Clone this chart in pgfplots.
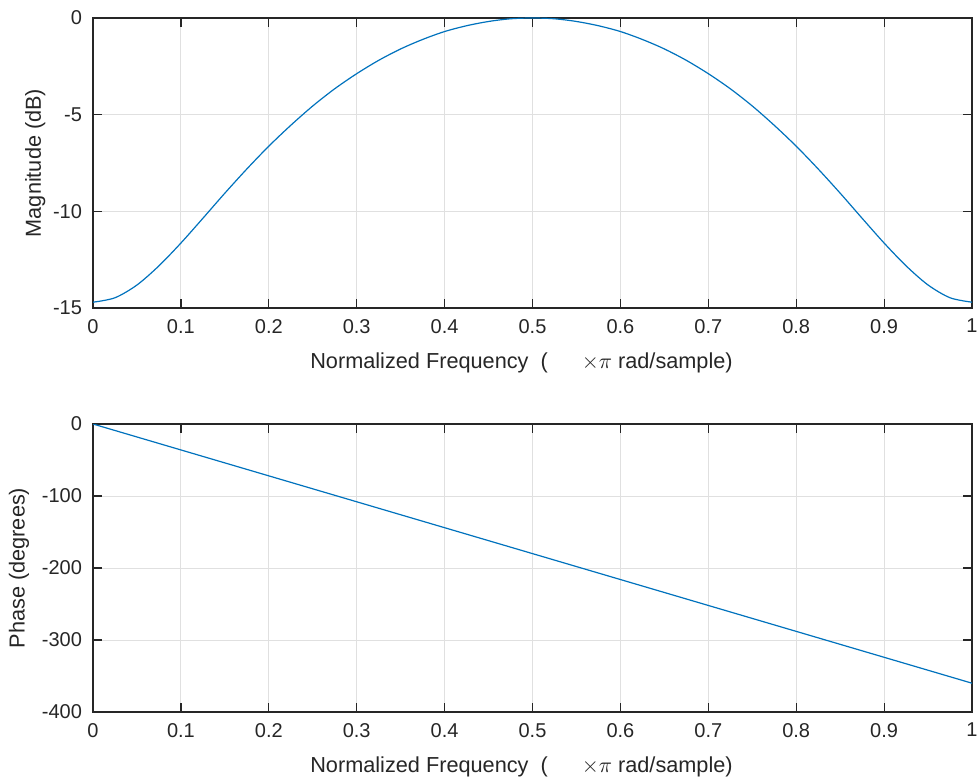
\documentclass[border=0pt]{standalone}
\usepackage{pgfplots}
\pgfplotsset{compat=1.18}
\usepackage{fontspec}
\setmainfont{Liberation Sans}
\definecolor{mblue}{rgb}{0,0.447,0.741}
\definecolor{axgray}{gray}{0.15}
\definecolor{gridgray}{gray}{0.88}
\pgfplotsset{
  mstyle/.style={
    scale only axis,
    width=439.5pt,
    xmin=0, xmax=1,
    xtick={0,0.1,...,1.0},
    xticklabels={0,0.1,0.2,0.3,0.4,0.5,0.6,0.7,0.8,0.9,1},
    tick align=inside,
    major tick length=4.5pt,
    tick pos=both,
    grid=major,
    major grid style={gridgray, line width=0.5pt},
    axis line style={axgray, line width=0.6pt},
    tick style={axgray, line width=0.6pt},
    /pgf/number format/assume math mode=true,
    tick label style={font=\fontsize{10}{11}\selectfont, text=axgray},
    xticklabel style={yshift=-2pt},
    yticklabel style={xshift=-2pt},
    label style={font=\fontsize{10.85}{13}\selectfont, text=axgray},
    xlabel={Normalized Frequency\ \ (\hspace{1.1em}\hspace{5pt}$\times\pi$ rad/sample)},
    xlabel style={yshift=-3pt, xshift=-5.5pt},
  }
}
\pgfplotstableread{
f db
0 -14.70
0.025 -14.47
0.05 -13.81
0.075 -12.82
0.1 -11.64
0.125 -10.36
0.15 -9.06
0.175 -7.81
0.2 -6.63
0.225 -5.55
0.25 -4.55
0.275 -3.66
0.3 -2.88
0.325 -2.19
0.35 -1.60
0.375 -1.11
0.4 -0.70
0.425 -0.40
0.45 -0.18
0.475 -0.04
0.5 0
0.525 -0.04
0.55 -0.18
0.575 -0.40
0.6 -0.70
0.625 -1.11
0.65 -1.60
0.675 -2.19
0.7 -2.88
0.725 -3.66
0.75 -4.55
0.775 -5.55
0.8 -6.63
0.825 -7.81
0.85 -9.06
0.875 -10.36
0.9 -11.64
0.925 -12.82
0.95 -13.81
0.975 -14.47
1 -14.70
}\magtable
\pgfplotstableread{
f ph
0 0
0.5 -180
1 -360
}\phtable
\begin{document}
\begin{tikzpicture}[x=1pt,y=1pt]
\path[use as bounding box] (0,0) rectangle (488.5,389);
\begin{axis}[mstyle, at={(46.5pt,235pt)}, anchor=south west, height=145pt,
  ymin=-15, ymax=0, ytick={-15,-10,-5,0},
  ylabel={Magnitude (dB)}, ylabel style={yshift=-3pt}]
\addplot[mblue, line width=0.6pt, smooth, tension=0.5] table[x=f,y=db] {\magtable};
\end{axis}
\begin{axis}[mstyle, at={(46.5pt,33pt)}, anchor=south west, height=144pt,
  ymin=-400, ymax=0, ytick={-400,-300,-200,-100,0},
  ylabel={Phase (degrees)}, ylabel style={yshift=-0.5pt}]
\addplot[mblue, line width=0.6pt] table[x=f,y=ph] {\phtable};
\end{axis}
\end{tikzpicture}
\end{document}
